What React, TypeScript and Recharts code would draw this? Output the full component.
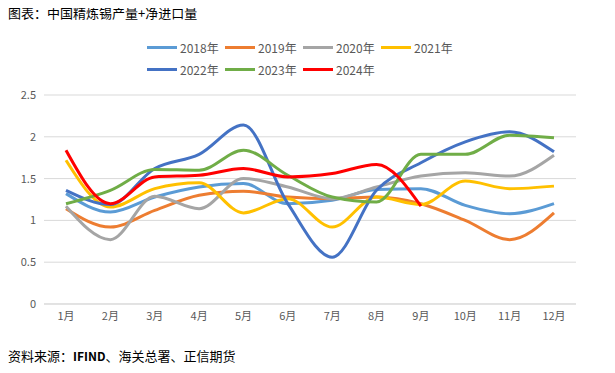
import { CartesianGrid, Line, LineChart, XAxis, YAxis } from "recharts";

const months = ["1月", "2月", "3月", "4月", "5月", "6月", "7月", "8月", "9月", "10月", "11月", "12月"];

const y2018 = [1.32, 1.1, 1.28, 1.4, 1.44, 1.2, 1.24, 1.37, 1.38, 1.18, 1.08, 1.2];
const y2019 = [1.14, 0.92, 1.12, 1.3, 1.35, 1.28, 1.26, 1.28, 1.2, 1.0, 0.77, 1.09];
const y2020 = [1.17, 0.77, 1.29, 1.14, 1.5, 1.4, 1.26, 1.4, 1.53, 1.57, 1.53, 1.78];
const y2021 = [1.72, 1.16, 1.38, 1.45, 1.09, 1.26, 0.92, 1.28, 1.19, 1.47, 1.38, 1.41];
const y2022 = [1.36, 1.19, 1.62, 1.79, 2.14, 1.2, 0.56, 1.36, 1.69, 1.94, 2.06, 1.82];
const y2023 = [1.2, 1.36, 1.61, 1.6, 1.84, 1.54, 1.28, 1.22, 1.79, 1.79, 2.02, 1.99];
const y2024 = [1.84, 1.2, 1.52, 1.54, 1.62, 1.52, 1.56, 1.67, 1.17];

const yTicks = [0, 0.5, 1, 1.5, 2, 2.5];

const series = [
  { key: "2018年", values: y2018, color: "#5B9BD5" },
  { key: "2019年", values: y2019, color: "#ED7D31" },
  { key: "2020年", values: y2020, color: "#A5A5A5" },
  { key: "2021年", values: y2021, color: "#FFC000" },
  { key: "2022年", values: y2022, color: "#4472C4" },
  { key: "2023年", values: y2023, color: "#70AD47" },
  { key: "2024年", values: y2024, color: "#FF0000" },
];

const data = months.map((m, i) => {
  const row: Record<string, string | number | null> = { month: m };
  series.forEach((s) => {
    row[s.key] = i < s.values.length ? s.values[i] : null;
  });
  return row;
});

const font = '"Noto Sans CJK SC", "Noto Sans", sans-serif';

function ChartLegend() {
  return (
    <div style={{ position: "absolute", left: 147, top: 38, display: "flex", flexWrap: "wrap", width: 320, rowGap: 4 }}>
      {series.map((s) => (
        <div key={s.key} style={{ display: "flex", alignItems: "center", width: 78, height: 18 }}>
          <span style={{ display: "inline-block", width: 30, height: 3, background: s.color, marginRight: 3 }} />
          <span style={{ fontSize: 12, color: "#595959" }}>{s.key}</span>
        </div>
      ))}
    </div>
  );
}

export default function App() {
  return (
    <div style={{ position: "relative", width: 615, height: 373, margin: -8, background: "#fff", fontFamily: font }}>
      <div style={{ position: "absolute", left: 8, top: 3, fontSize: 13, color: "#000" }}>图表：中国精炼锡产量+净进口量</div>
      <ChartLegend />
      <LineChart width={615} height={373} data={data} margin={{ top: 95, right: 39, bottom: 39, left: 8 }}>
        <CartesianGrid vertical={false} stroke="#D9D9D9" />
        <XAxis
          dataKey="month"
          axisLine={{ stroke: "#D9D9D9" }}
          tickLine={false}
          tick={{ fontSize: 11, fill: "#595959", fontFamily: font }}
          interval={0}
          padding={{ left: 22, right: 22 }}
        />
        <YAxis
          domain={[0, 2.5]}
          ticks={yTicks}
          width={36}
          axisLine={false}
          tickLine={false}
          tick={{ fontSize: 11, fill: "#595959", fontFamily: font }}
        />
        {series.map((s) => (
          <Line
            key={s.key}
            dataKey={s.key}
            type="monotone"
            stroke={s.color}
            strokeWidth={3}
            dot={false}
            isAnimationActive={false}
          />
        ))}
      </LineChart>
      <div style={{ position: "absolute", left: 8, top: 346, fontSize: 13, color: "#000" }}>
        资料来源：<b style={{ fontSize: 12 }}>IFIND</b>、海关总署、正信期货
      </div>
    </div>
  );
}
